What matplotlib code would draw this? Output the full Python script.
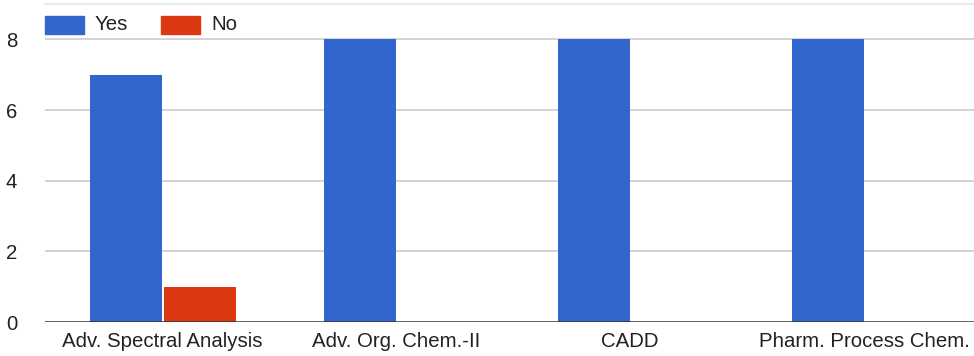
import matplotlib

matplotlib.use("Agg")
import matplotlib.pyplot as plt
import numpy as np
from matplotlib.patches import Rectangle

categories = ["Adv. Spectral Analysis", "Adv. Org. Chem.-II", "CADD", "Pharm. Process Chem."]
yes_counts = [7, 8, 8, 8]
no_counts = [1, 0, 0, 0]
y_ticks = [0, 2, 4, 6, 8]

BLUE = "#3366cc"
RED = "#dc3912"
FS = 14.7

plt.rcParams["font.family"] = ["Liberation Sans", "DejaVu Sans"]

W, H = 974, 356
fig = plt.figure(figsize=(W / 100, H / 100), dpi=100)
left, right, top, bottom = 45, 974, 4, 322
ax = fig.add_axes([left / W, 1 - bottom / H, (right - left) / W, (bottom - top) / H])

slot = 234.0  # pixels per category
bw = 72 / slot
xs = np.arange(len(categories))
ax.bar(xs - bw / 2, yes_counts, width=bw, color=BLUE, zorder=3)
ax.bar(xs + bw / 2 + 2 / slot, no_counts, width=bw, color=RED, zorder=3)

ax.set_xlim(-0.5, -0.5 + (right - left) / slot)
ax.set_ylim(0, 9)
for y in y_ticks[1:]:
    ax.axhline(y, color="#cccccc", linewidth=1.2, zorder=1)
ax.axhline(9, color="#ebebeb", linewidth=1.5, zorder=1, clip_on=False)
ax.axhline(0, color="#333333", linewidth=1.8, zorder=4)

ax.set_yticks(y_ticks)
ax.set_yticklabels([str(v) for v in y_ticks])
ax.set_xticks(xs)
ax.set_xticklabels(categories)
ax.tick_params(axis="both", length=0, labelsize=FS, colors="#222222")
ax.tick_params(axis="y", pad=20)
ax.tick_params(axis="x", pad=7)
for s in ax.spines.values():
    s.set_visible(False)

# legend drawn in figure pixels
def legend_item(x0, color, label):
    fig.patches.append(Rectangle((x0 / W, 1 - 34 / H), 39 / W, 18 / H,
                                 transform=fig.transFigure, color=color, figure=fig))
    fig.text((x0 + 50) / W, 1 - 25 / H, label, fontsize=FS, color="#222222",
             va="center", ha="left")

legend_item(45, BLUE, "Yes")
legend_item(161, RED, "No")

fig.savefig("out.png", dpi=100)
